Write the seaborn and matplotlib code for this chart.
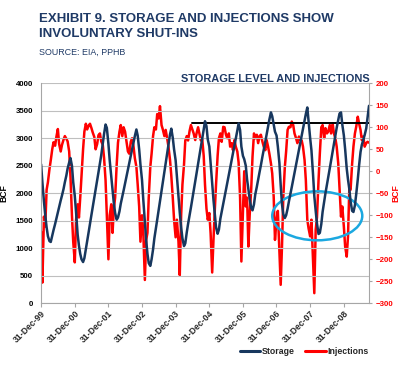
import numpy as np
import pandas as pd
import matplotlib
matplotlib.use('Agg')
import matplotlib.pyplot as plt
import matplotlib.dates as mdates
from matplotlib.patches import Ellipse
from matplotlib.lines import Line2D
import seaborn as sns

# semi-monthly readings (1st and 15th of each month), Jan 2000 - Oct 2009
storage_2000 = [2527, 2200, 1850, 1600, 1380, 1220, 1130, 1115, 1230, 1330, 1440, 1540,
                1650, 1750, 1870, 1960, 2080, 2200, 2320, 2450, 2560, 2640, 2500, 2200]
storage_2001 = [1950, 1650, 1250, 1050, 900, 800, 750, 820, 980, 1130, 1300, 1450,
                1610, 1750, 1930, 2070, 2240, 2380, 2550, 2690, 2900, 3080, 3250, 3190]
storage_2002 = [2900, 2600, 2300, 2050, 1820, 1640, 1520, 1560, 1670, 1810, 1940, 2050,
                2180, 2290, 2430, 2540, 2680, 2790, 2920, 3040, 3160, 3050, 2800, 2520]
storage_2003 = [2240, 1880, 1480, 1150, 900, 730, 680, 800, 980, 1180, 1360, 1520,
                1700, 1850, 2050, 2200, 2390, 2550, 2730, 2880, 3070, 3175, 3010, 2800]
storage_2004 = [2600, 2300, 1950, 1650, 1380, 1180, 1040, 1090, 1290, 1440, 1600, 1740,
                1900, 2045, 2220, 2360, 2540, 2680, 2840, 2990, 3160, 3310, 3220, 2980]
storage_2005 = [2850, 2550, 2200, 1880, 1620, 1380, 1265, 1340, 1540, 1660, 1800, 1930,
                2070, 2190, 2340, 2460, 2610, 2730, 2870, 2990, 3140, 3270, 3150, 2850]
storage_2006 = [2680, 2620, 2500, 2250, 2080, 1900, 1730, 1690, 1800, 1980, 2120, 2250,
                2390, 2510, 2670, 2790, 2940, 3070, 3210, 3340, 3470, 3400, 3250, 3120]
storage_2007 = [3050, 2850, 2550, 2150, 1800, 1620, 1550, 1600, 1720, 1850, 1990, 2110,
                2250, 2370, 2520, 2640, 2790, 2910, 3050, 3170, 3320, 3440, 3560, 3300]
storage_2008 = [3000, 2780, 2350, 1950, 1680, 1450, 1260, 1280, 1440, 1660, 1850, 2000,
                2160, 2290, 2450, 2590, 2760, 2900, 3060, 3190, 3330, 3450, 3470, 3250]
storage_2009 = [3050, 2800, 2450, 2250, 2080, 1850, 1680, 1660, 1780, 1980, 2250, 2500,
                2750, 2880, 2980, 3060, 3180, 3370, 3590]

inj_2000 = [-137, -253, -103, -126, -42, -25, 5, 25, 50, 66, 58, 78,
            96, 62, 45, 60, 72, 80, 74, 68, 45, -12, -100, -160]
inj_2001 = [-207, -110, -75, -105, -60, -10, 50, 90, 108, 95, 104, 108,
            98, 88, 78, 50, 62, 82, 86, 68, 60, 30, -20, -100]
inj_2002 = [-200, -100, -75, -140, -85, -60, 15, 65, 90, 105, 80, 100,
            90, 70, 45, 40, 67, 75, 56, 30, 10, -30, -80, -160]
inj_2003 = [-100, -140, -247, -156, -140, -60, 10, 40, 80, 100, 95, 130,
            120, 148, 105, 95, 80, 94, 75, 56, 26, -10, -60, -110]
inj_2004 = [-150, -110, -160, -236, -100, -30, 15, 70, 80, 70, 92, 105,
            95, 86, 71, 86, 100, 86, 70, 75, 35, -30, -85, -110]
inj_2005 = [-95, -141, -230, -156, -90, -30, 35, 75, 86, 67, 101, 100,
            83, 75, 86, 56, 64, 48, 71, 56, 45, 20, -60, -205]
inj_2006 = [-95, 0, -80, -60, -171, -100, -40, 33, 86, 75, 83, 64,
            80, 83, 67, 56, 48, 71, 56, 40, 18, -5, -58, -156]
inj_2007 = [-110, -90, -180, -258, -171, -60, 10, 45, 94, 101, 100, 113,
            105, 86, 75, 64, 79, 71, 70, 56, 26, -20, -110, -130]
inj_2008 = [-148, -110, -200, -277, -133, -105, -20, 40, 100, 105, 75, 98,
            86, 90, 105, 86, 109, 86, 75, 56, 18, -40, -103, -80]
inj_2009 = [-126, -171, -194, -148, -40, -42, 18, 56, 86, 101, 124, 109,
            94, 71, 79, 56, 64, 67, 65]

# previous peak level line
record_dates = ['2004-06-25', '2009-10-01']
record_level = [3280, 3280]

tick_dates = ['1999-12-31', '2000-12-31', '2001-12-31', '2002-12-31', '2003-12-31',
              '2004-12-31', '2005-12-31', '2006-12-31', '2007-12-31', '2008-12-31']

storage = (storage_2000 + storage_2001 + storage_2002 + storage_2003 + storage_2004 +
           storage_2005 + storage_2006 + storage_2007 + storage_2008 + storage_2009)
injections = (inj_2000 + inj_2001 + inj_2002 + inj_2003 + inj_2004 +
              inj_2005 + inj_2006 + inj_2007 + inj_2008 + inj_2009)
dates = pd.date_range('2000-01-01', '2009-10-01', freq='SMS')
df = pd.DataFrame({'date': dates, 'storage': storage, 'injections': injections})

navy = '#17375E'
title_col = '#1F3A66'
red = '#FF0000'
axis_grey = '#A6A6A6'

sns.set_theme(style='white')
plt.rcParams['font.family'] = ['Liberation Sans', 'DejaVu Sans']

fig = plt.figure(figsize=(4, 3.67), dpi=100)
ax = fig.add_axes([0.1025, 0.1736, 0.82, 0.5995])
ax2 = ax.twinx()
ax.set_zorder(2)
ax2.set_zorder(1)
ax.patch.set_visible(False)

sns.lineplot(data=df, x='date', y='injections', ax=ax2, color=red, linewidth=1.8)
sns.lineplot(x=pd.to_datetime(record_dates), y=record_level, ax=ax, color='black', linewidth=1.4)
sns.lineplot(data=df, x='date', y='storage', ax=ax, color=navy, linewidth=1.8)

# circled area
ell = Ellipse((mdates.date2num(pd.Timestamp('2008-03-18')), 1590), width=978, height=890,
              fill=False, edgecolor='#1BA8E0', linewidth=1.8)
ax.add_patch(ell)

ax.set_xlim(pd.Timestamp('1999-12-31'), dates[-1])
ax.set_ylim(0, 4000)
ax2.set_ylim(-300, 200)
ax.set_yticks(np.arange(0, 4001, 500))
ax2.set_yticks(np.arange(-300, 201, 50))
ax.set_xticks(pd.to_datetime(tick_dates))
ax.xaxis.set_major_formatter(mdates.DateFormatter('%d-%b-%y'))
ax.grid(axis='y', color='#BFBFBF', linewidth=0.8)
ax.grid(axis='x', visible=False)
ax2.grid(False)

ax.set_xlabel('')
ax.set_ylabel('BCF', fontsize=6.2, fontweight='bold', color='black')
ax2.set_ylabel('BCF', fontsize=6.2, fontweight='bold', color=red)
ax.yaxis.set_label_coords(-0.1, 0.5)
ax2.yaxis.set_label_coords(1.069, 0.5)

ax.tick_params(axis='y', length=0, pad=5.5, labelsize=5.7, labelcolor='black')
ax2.tick_params(axis='y', length=2.5, width=0.8, color=axis_grey, pad=2.5,
                labelsize=5.7, labelcolor=red)
ax.tick_params(axis='x', length=3, width=0.8, color=axis_grey, pad=1, labelsize=6.2, bottom=True)
for lab in ax.get_yticklabels() + ax2.get_yticklabels() + ax.get_xticklabels():
    lab.set_fontweight('bold')
for lab in ax.get_xticklabels():
    lab.set_rotation(45)
    lab.set_ha('right')
    lab.set_va('top')
    lab.set_rotation_mode('anchor')

for a in (ax, ax2):
    a.spines['top'].set_visible(False)
    for s in ('left', 'right', 'bottom'):
        a.spines[s].set_color(axis_grey)
        a.spines[s].set_linewidth(0.8)
ax.spines['right'].set_visible(False)
ax2.spines['left'].set_visible(False)
ax2.spines['bottom'].set_visible(False)

fig.text(0.0975, 1 - 22 / 367, 'EXHIBIT 9. STORAGE AND INJECTIONS SHOW', fontsize=9.5,
         fontweight='bold', color=title_col, va='baseline')
fig.text(0.0975, 1 - 37 / 367, 'INVOLUNTARY SHUT-INS', fontsize=9.5,
         fontweight='bold', color=title_col, va='baseline')
fig.text(0.0975, 1 - 55 / 367, 'SOURCE: EIA, PPHB', fontsize=6.4, color=title_col, va='baseline')
fig.text(0.925, 1 - 82 / 367, 'STORAGE LEVEL AND INJECTIONS', fontsize=7.9,
         fontweight='bold', color=title_col, va='baseline', ha='right')

handles = [Line2D([], [], color=navy, linewidth=2.2), Line2D([], [], color=red, linewidth=2.2)]
fig.legend(handles, ['Storage', 'Injections'], loc='center right', bbox_to_anchor=(0.93, 0.041),
           ncol=2, frameon=False, handlelength=2.3, handletextpad=0.2,
           columnspacing=1.2, prop={'weight': 'bold', 'size': 6.3}, borderaxespad=0)

fig.savefig('out.png', dpi=100)
